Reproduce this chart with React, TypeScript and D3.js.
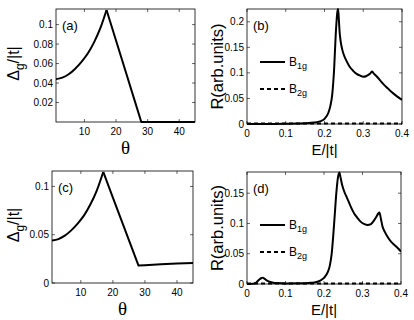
import React from 'react';
import * as d3 from 'd3';

// panel (a): gap vs angle (rising branch smooth, falling branch straight)
const thetaRiseA = [1, 3, 5, 7, 9, 11, 13, 15, 17];
const gapRiseA = [0.044, 0.0455, 0.049, 0.0545, 0.0615, 0.07, 0.0815, 0.096, 0.115];
const thetaFallA = [17, 20, 23, 26, 28, 30, 35, 40, 45];
const gapFallA = [0.115, 0.0836, 0.0523, 0.0209, 0, 0, 0, 0, 0];

// panel (c)
const thetaRiseC = [1, 3, 5, 7, 9, 11, 13, 15, 17];
const gapRiseC = [0.044, 0.0455, 0.049, 0.0545, 0.0615, 0.07, 0.0815, 0.096, 0.115];
const thetaFallC = [17, 20, 23, 26, 28, 30, 35, 40, 45];
const gapFallC = [0.115, 0.0885, 0.062, 0.0355, 0.018, 0.0185, 0.0195, 0.0202, 0.0207];

// panel (b): Raman response
const energyB = [0, 0.05, 0.1, 0.13, 0.16, 0.18, 0.19, 0.2, 0.21, 0.215, 0.22, 0.225, 0.229, 0.233, 0.235, 0.237, 0.239, 0.242, 0.246, 0.25, 0.257, 0.265, 0.274, 0.283, 0.291, 0.3, 0.307, 0.313, 0.318, 0.323, 0.328, 0.335, 0.343, 0.352, 0.363, 0.374, 0.387, 0.4];
const b1gB = [0, 0, 0.0005, 0.001, 0.002, 0.0035, 0.0055, 0.01, 0.022, 0.035, 0.058, 0.11, 0.175, 0.218, 0.225, 0.205, 0.18, 0.16, 0.145, 0.135, 0.123, 0.112, 0.104, 0.098, 0.095, 0.0925, 0.0935, 0.096, 0.099, 0.1025, 0.098, 0.093, 0.086, 0.078, 0.07, 0.062, 0.054, 0.047];
const energyB2 = [0, 0.4];
const b2gB = [0.0008, 0.0008];

// panel (d)
const energyD = [0, 0.015, 0.025, 0.032, 0.038, 0.041, 0.045, 0.05, 0.058, 0.068, 0.08, 0.1, 0.13, 0.16, 0.175, 0.19, 0.2, 0.21, 0.215, 0.22, 0.224, 0.228, 0.232, 0.236, 0.24, 0.243, 0.247, 0.253, 0.26, 0.268, 0.278, 0.287, 0.295, 0.305, 0.313, 0.322, 0.33, 0.336, 0.341, 0.344, 0.348, 0.352, 0.358, 0.365, 0.374, 0.383, 0.392, 0.4];
const b1gD = [0, 0.0005, 0.003, 0.0075, 0.01, 0.0105, 0.009, 0.0065, 0.004, 0.0022, 0.0015, 0.001, 0.0012, 0.0018, 0.0025, 0.0055, 0.01, 0.02, 0.03, 0.05, 0.08, 0.115, 0.15, 0.175, 0.184, 0.176, 0.164, 0.152, 0.142, 0.13, 0.117, 0.109, 0.103, 0.099, 0.0975, 0.099, 0.105, 0.111, 0.1165, 0.118, 0.107, 0.095, 0.086, 0.078, 0.07, 0.0645, 0.059, 0.0535];
const energyD2 = [0, 0.4];
const b2gD = [0.0008, 0.0008];

const thetaTicks = [10, 20, 30, 40];
const ticksA = [0.02, 0.04, 0.06, 0.08, 0.1];
const ticksC = [0, 0.05, 0.1];
const energyTicks = [0, 0.1, 0.2, 0.3, 0.4];
const ticksB = [0, 0.05, 0.1, 0.15, 0.2];
const ticksD = [0, 0.05, 0.1, 0.15];
const legendNames = ['1g', '2g'];

const sans = 'Liberation Sans, Arial, Helvetica, sans-serif';
const serif = 'Liberation Serif, Times New Roman, serif';

type Series = { x: number[]; y: number[]; dash?: string; curve?: d3.CurveFactory };

type PanelProps = {
  box: [number, number, number, number]; // left, top, right, bottom
  xDomain: [number, number];
  yDomain: [number, number];
  xTicks: number[];
  yTicks: number[];
  tag: string;
  series: Series[];
  xLabel: 'theta' | 'energy';
  yLabel: 'gap' | 'R';
  legend?: boolean;
};

const fmt = (v: number) => (v === 0 ? '0' : String(v));

function Panel(p: PanelProps) {
  const [l, t, r, b] = p.box;
  const x = d3.scaleLinear().domain(p.xDomain).range([l, r]);
  const y = d3.scaleLinear().domain(p.yDomain).range([b, t]);
  const tl = 3;
  const midY = (t + b) / 2;

  return (
    <g>
      <defs>
        <clipPath id={'clip' + p.tag}>
          <rect x={l} y={t - 1} width={r - l} height={b - t + 2} />
        </clipPath>
      </defs>
      {p.series.map((s, i) => {
        const line = d3
          .line<number>()
          .x((_, k) => x(s.x[k]))
          .y((v) => y(v))
          .curve(s.curve || d3.curveLinear);
        return (
          <path
            key={i}
            d={line(s.y) || ''}
            fill="none"
            stroke="#000"
            strokeWidth={2}
            strokeLinejoin="round"
            strokeDasharray={s.dash}
            clipPath={`url(#clip${p.tag})`}
          />
        );
      })}
      <rect x={l} y={t} width={r - l} height={b - t} fill="none" stroke="#000" strokeWidth={0.8} />
      {p.xTicks.map((v) => (
        <g key={'x' + v}>
          <line x1={x(v)} x2={x(v)} y1={b} y2={b - tl} stroke="#000" strokeWidth={0.6} />
          <line x1={x(v)} x2={x(v)} y1={t} y2={t + tl} stroke="#000" strokeWidth={0.6} />
          <text x={x(v)} y={b + 13} textAnchor="middle" fontSize={10} fontFamily={sans}>
            {fmt(v)}
          </text>
        </g>
      ))}
      {p.yTicks.map((v) => (
        <g key={'y' + v}>
          <line x1={l} x2={l + tl} y1={y(v)} y2={y(v)} stroke="#000" strokeWidth={0.6} />
          <line x1={r} x2={r - tl} y1={y(v)} y2={y(v)} stroke="#000" strokeWidth={0.6} />
          <text x={l - 3} y={y(v) + 3.5} textAnchor="end" fontSize={10} fontFamily={sans}>
            {fmt(v)}
          </text>
        </g>
      ))}
      <text x={l + 6} y={t + 21} fontSize={13} fontFamily={sans}>
        ({p.tag})
      </text>
      {p.xLabel === 'theta' ? (
        <text x={(l + r) / 2} y={b + 32} textAnchor="middle" fontSize={19} fontFamily={serif}>
          θ
        </text>
      ) : (
        <text x={(l + r) / 2} y={b + 31} textAnchor="middle" fontSize={15} fontFamily={sans}>
          E/|t|
        </text>
      )}
      {p.yLabel === 'gap' ? (
        <text transform={`translate(19,${midY - 2}) rotate(-90)`} textAnchor="middle" fontSize={16} fontFamily={sans}>
          Δ<tspan fontSize={12} dy={5}>g</tspan>
          <tspan dy={-5}>/|t|</tspan>
        </text>
      ) : (
        <text transform={`translate(${l - 24},${midY}) rotate(-90)`} textAnchor="middle" fontSize={16.5} fontFamily={sans}>
          R(arb.units)
        </text>
      )}
      {p.legend &&
        legendNames.map((nm, i) => {
          const ly = t + 53 + i * 27;
          return (
            <g key={nm}>
              <line
                x1={l + 13}
                x2={l + 38}
                y1={ly}
                y2={ly}
                stroke="#000"
                strokeWidth={2}
                strokeDasharray={i === 1 ? '4,3' : undefined}
              />
              <text x={l + 42} y={ly + 4} fontSize={12} fontFamily={sans}>
                B<tspan fontSize={9} dy={3}>{nm}</tspan>
              </text>
            </g>
          );
        })}
    </g>
  );
}

export default function App() {
  return (
    <svg width={414} height={320} style={{ position: 'absolute', left: 0, top: 0, background: '#fff' }}>
      <Panel
        box={[56, 9, 195, 122]}
        xDomain={[1, 45]}
        yDomain={[0, 0.116]}
        xTicks={thetaTicks}
        yTicks={ticksA}
        tag="a"
        xLabel="theta"
        yLabel="gap"
        series={[
          { x: thetaRiseA, y: gapRiseA, curve: d3.curveMonotoneX },
          { x: thetaFallA, y: gapFallA },
        ]}
      />
      <Panel
        box={[247, 9, 402, 124]}
        xDomain={[0, 0.4]}
        yDomain={[0, 0.225]}
        xTicks={energyTicks}
        yTicks={ticksB}
        tag="b"
        xLabel="energy"
        yLabel="R"
        legend
        series={[
          { x: energyB, y: b1gB, curve: d3.curveMonotoneX },
          { x: energyB2, y: b2gB, dash: '4,3' },
        ]}
      />
      <Panel
        box={[52, 171, 193, 283]}
        xDomain={[1, 45]}
        yDomain={[0, 0.116]}
        xTicks={thetaTicks}
        yTicks={ticksC}
        tag="c"
        xLabel="theta"
        yLabel="gap"
        series={[
          { x: thetaRiseC, y: gapRiseC, curve: d3.curveMonotoneX },
          { x: thetaFallC, y: gapFallC },
        ]}
      />
      <Panel
        box={[247, 172, 401, 284]}
        xDomain={[0, 0.4]}
        yDomain={[0, 0.185]}
        xTicks={energyTicks}
        yTicks={ticksD}
        tag="d"
        xLabel="energy"
        yLabel="R"
        legend
        series={[
          { x: energyD, y: b1gD, curve: d3.curveMonotoneX },
          { x: energyD2, y: b2gD, dash: '4,3' },
        ]}
      />
    </svg>
  );
}
